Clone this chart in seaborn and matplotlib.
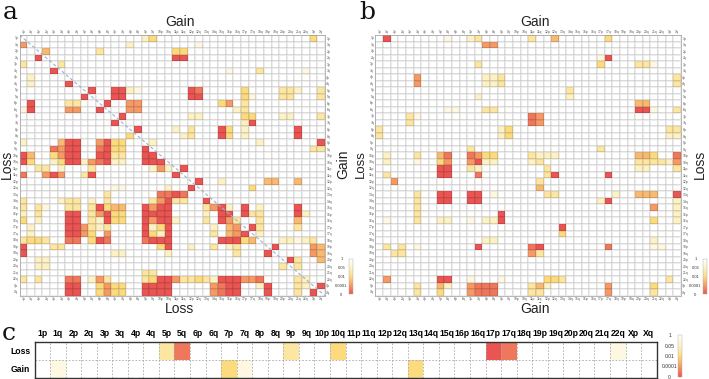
import numpy as np
import pandas as pd
import matplotlib
matplotlib.use('Agg')
import matplotlib.pyplot as plt
from matplotlib.colors import LinearSegmentedColormap, Normalize
from matplotlib.cm import ScalarMappable
import seaborn as sns

plt.rcParams['font.family'] = ['Liberation Sans', 'DejaVu Sans']

arms = ["1p", "1q", "2p", "2q", "3p", "3q", "4p", "4q", "5p", "5q",
        "6p", "6q", "7p", "7q", "8p", "8q", "9p", "9q", "10p", "10q",
        "11p", "11q", "12p", "12q", "13q", "14q", "15q", "16p", "16q", "17p",
        "17q", "18q", "19p", "19q", "20p", "20q", "21q", "22q", "Xp", "Xq"]

# significance score per cell: 0 = p 1 (white) ... 8 = p 0 (red)
# one dict per row arm, {column arm index: score}
a_sig = [
    {16: 2, 17: 4, 38: 4},                                                  # 1p
    {0: 6, 14: 2, 23: 1},                                                   # 1q
    {3: 5, 10: 3, 20: 4, 21: 4},                                            # 2p
    {2: 8, 20: 8, 21: 8},                                                   # 2q
    {0: 3, 5: 3},                                                           # 3p
    {4: 8, 27: 1, 31: 3, 37: 1},                                            # 3q
    {1: 2},                                                                 # 4p
    {1: 2, 6: 8},                                                           # 4q
    {9: 8, 12: 8, 13: 8, 14: 2, 15: 1, 22: 8, 23: 7, 29: 4, 34: 3, 35: 3, 36: 2, 39: 3},  # 5p
    {8: 8, 12: 8, 13: 8, 22: 8, 23: 8, 29: 4, 30: 1, 34: 3, 35: 3, 39: 3},  # 5q
    {1: 8, 6: 3, 7: 3, 11: 8, 14: 6, 15: 6, 26: 4, 27: 6, 29: 3},           # 6p
    {0: 1, 1: 8, 6: 6, 7: 6, 10: 8, 14: 6, 15: 6, 28: 2, 29: 3},            # 6q
    {13: 8, 22: 2, 23: 2, 29: 4, 30: 4, 34: 2, 35: 2, 39: 3},               # 7p
    {12: 8, 29: 2, 30: 8},                                                  # 7q
    {15: 8, 20: 2, 22: 3, 26: 8, 27: 4, 29: 2, 36: 8},                      # 8p
    {14: 4, 21: 2, 22: 3, 26: 8, 27: 4, 29: 2, 36: 8},                      # 8q
    {0: 2, 5: 5, 6: 8, 7: 8, 10: 6, 11: 8, 12: 4, 13: 4, 17: 2, 31: 2, 39: 8},  # 9p
    {4: 7, 5: 6, 6: 8, 7: 8, 10: 7, 11: 8, 12: 4, 13: 4, 16: 8, 38: 3, 39: 3},  # 9q
    {0: 8, 1: 5, 4: 4, 5: 6, 6: 8, 7: 8, 10: 8, 11: 8, 12: 3, 13: 3, 16: 8, 17: 8},  # 10p
    {0: 8, 1: 4, 4: 2, 5: 4, 6: 8, 7: 8, 8: 2, 9: 6, 10: 7, 11: 8, 12: 2, 13: 2,
     16: 8, 17: 8, 18: 8},                                                  # 10q
    {2: 3, 3: 3, 5: 2, 9: 3, 17: 2, 18: 6, 19: 2, 21: 8},                   # 11p
    {0: 7, 3: 6, 4: 8, 5: 6, 8: 3, 9: 8, 20: 8},                            # 11q
    {23: 8, 26: 2, 32: 5, 33: 5, 36: 5},                                    # 12p
    {12: 1, 13: 1, 19: 2, 22: 8, 30: 4},                                    # 12q
    {11: 3, 18: 7, 19: 7, 20: 8, 21: 7},                                    # 13q
    {0: 3, 5: 2, 6: 3, 7: 3, 9: 2, 11: 3, 17: 3, 18: 6, 19: 8, 20: 3, 21: 3, 24: 8},  # 14q
    {0: 3, 2: 3, 3: 1, 6: 3, 7: 3, 9: 3, 10: 8, 11: 4, 12: 5, 13: 5, 16: 8, 17: 6,
     18: 8, 19: 8, 24: 3, 25: 6, 26: 8, 27: 2, 29: 8, 31: 2, 36: 8},        # 15q
    {0: 2, 2: 3, 6: 8, 7: 8, 9: 3, 10: 6, 11: 8, 12: 4, 13: 4, 16: 8, 17: 8, 18: 8,
     19: 8, 24: 2, 26: 8, 27: 8, 29: 8, 30: 3, 31: 3, 36: 8, 37: 2},        # 16p
    {0: 4, 2: 2, 6: 8, 7: 8, 9: 3, 10: 2, 11: 8, 12: 4, 13: 4, 16: 8, 17: 6, 18: 8,
     19: 8, 20: 2, 24: 3, 26: 8, 27: 6, 28: 3, 31: 3, 36: 5},               # 16q
    {1: 2, 6: 8, 7: 8, 8: 6, 9: 3, 10: 2, 11: 3, 16: 8, 17: 2, 18: 4, 19: 8, 25: 2,
     27: 5, 28: 6, 30: 8, 31: 3, 36: 3},                                    # 17p
    {1: 2, 6: 8, 7: 8, 8: 6, 9: 4, 11: 6, 16: 8, 17: 4, 18: 2, 19: 8, 25: 3, 27: 5,
     28: 6, 29: 8, 31: 2},                                                  # 17q
    {0: 3, 1: 4, 2: 4, 3: 3, 6: 7, 7: 7, 9: 4, 10: 8, 11: 7, 16: 7, 17: 8, 18: 8,
     19: 8, 26: 8, 27: 8, 28: 8, 29: 4, 30: 5, 34: 2, 35: 2, 36: 1, 37: 2, 38: 3},  # 18q
    {0: 8, 4: 3, 5: 3, 18: 4, 19: 8, 22: 2, 25: 3, 27: 2, 28: 3, 33: 8, 38: 6, 39: 5},  # 19p
    {0: 8, 12: 2, 13: 2, 19: 2, 28: 3, 32: 8, 38: 6, 39: 5},                # 19q
    {2: 2, 3: 2, 35: 8, 36: 3, 39: 5},                                      # 20p
    {2: 2, 3: 2, 34: 3, 36: 3},                                             # 20q
    {16: 3, 17: 3},                                                         # 21q
    {0: 3, 2: 3, 6: 7, 7: 7, 9: 2, 10: 6, 11: 3, 16: 3, 17: 4, 18: 8, 19: 8, 20: 6,
     21: 3, 22: 3, 23: 4, 24: 3, 25: 2, 26: 8, 27: 8, 28: 8, 29: 6, 30: 6, 31: 7,
     36: 3, 37: 2},                                                         # 22q
    {6: 8, 7: 8, 10: 4, 11: 6, 12: 4, 13: 4, 16: 8, 17: 8, 18: 8, 19: 8, 25: 6, 26: 7,
     27: 8, 28: 8, 31: 2, 32: 8, 36: 3, 37: 2, 39: 8},                      # Xp
    {6: 8, 7: 8, 10: 4, 11: 6, 12: 4, 13: 4, 16: 8, 17: 8, 18: 8, 19: 8, 25: 6, 26: 7,
     27: 8, 28: 8, 32: 8, 36: 3, 38: 8},                                    # Xq
]

b_sig = [
    {1: 8, 9: 1, 12: 2, 13: 3, 20: 3, 23: 5, 30: 4},                        # 1p
    {14: 6, 15: 6},                                                         # 1q
    {},                                                                     # 2p
    {29: 1, 30: 8},                                                         # 2q
    {13: 3, 29: 4, 34: 3, 35: 3, 36: 1},                                    # 3p
    {},                                                                     # 3q
    {5: 6, 14: 2, 15: 2, 16: 3, 39: 3},                                     # 4p
    {5: 6, 14: 2, 15: 2, 16: 3, 39: 3},                                     # 4q
    {25: 3},                                                                # 5p
    {13: 2, 25: 2},                                                         # 5q
    {34: 5, 35: 5},                                                         # 6p
    {9: 1, 10: 1, 14: 3, 15: 3, 34: 8, 35: 8, 36: 1, 39: 3},                # 6q
    {4: 3, 5: 1, 20: 7, 21: 6},                                             # 7p
    {4: 3, 20: 7, 21: 6},                                                   # 7q
    {0: 3, 16: 2, 17: 4, 38: 3, 39: 3},                                     # 8p
    {0: 3, 16: 2, 17: 4, 38: 2, 39: 2},                                     # 8q
    {},                                                                     # 9p
    {12: 3, 29: 3},                                                         # 9q
    {1: 2, 5: 3, 8: 5, 9: 7, 12: 7, 13: 6, 14: 4, 15: 4, 20: 3, 21: 2, 22: 2, 23: 2,
     34: 5, 35: 5, 36: 4, 39: 7},                                           # 10p
    {1: 2, 5: 1, 8: 4, 9: 6, 12: 6, 13: 8, 14: 2, 15: 2, 20: 2, 21: 3, 34: 3, 35: 3,
     36: 3, 37: 3, 38: 2, 39: 6},                                           # 10q
    {8: 8, 9: 8, 12: 3, 13: 2, 22: 3, 34: 2, 35: 2, 39: 3},                 # 11p
    {1: 3, 8: 8, 9: 8, 13: 7, 22: 3, 23: 8, 30: 8},                         # 11q
    {2: 6, 21: 3},                                                          # 12p
    {21: 5},                                                                # 12q
    {5: 3, 8: 8, 9: 8, 12: 8, 13: 8, 15: 1, 22: 3, 23: 3, 31: 2, 34: 5, 35: 5, 36: 5,
     39: 8},                                                                # 13q
    {5: 3, 8: 8, 9: 8, 12: 8, 13: 8, 29: 2, 30: 8, 39: 2},                  # 14q
    {5: 3, 36: 6, 39: 2},                                                   # 15q
    {5: 3, 16: 8, 39: 2},                                                   # 16p
    {1: 1, 5: 3, 8: 2, 9: 2, 12: 1, 14: 2, 15: 2, 16: 8, 36: 4, 39: 2},     # 16q
    {24: 8},                                                                # 17p
    {24: 4},                                                                # 17q
    {14: 2, 15: 2, 36: 2},                                                  # 18q
    {1: 3, 3: 3, 5: 1, 13: 8, 20: 7, 21: 8, 30: 7, 36: 1, 37: 1},           # 19p
    {2: 3, 3: 3, 20: 6, 21: 3},                                             # 19q
    {},                                                                     # 20p
    {},                                                                     # 20q
    {},                                                                     # 21q
    {1: 6, 8: 8, 9: 8, 12: 1, 16: 1, 22: 4, 23: 4, 24: 3, 38: 3},           # 22q
    {5: 3, 8: 5, 9: 2, 12: 6, 13: 7, 14: 7, 15: 7, 20: 3, 21: 5, 22: 2, 30: 6, 36: 4},  # Xp
    {5: 3, 8: 4, 12: 6, 13: 7, 14: 7, 15: 7, 20: 3, 21: 3, 30: 6, 36: 3},   # Xq
]

c_loss = [0, 0, 0, 0, 0, 0, 0, 0, 3, 7, 0, 0, 0, 0, 0, 0, 3, 0, 0, 4,
          0, 0, 0, 0, 0, 0, 0, 0, 0, 8, 7, 0, 0, 0, 0, 0, 0, 1, 0, 0]
c_gain = [0, 1, 0, 0, 0, 0, 0, 0, 0, 0, 0, 0, 4, 1, 0, 0, 0, 0, 0, 0,
          0, 0, 0, 0, 4, 0, 0, 0, 0, 0, 0, 0, 0, 0, 0, 0, 0, 0, 0, 0]

cbar_ticks = [0, 2, 4, 6, 8]
cbar_labels = ["1", "0.05", "0.01", "0.0001", "0"]

cmap = LinearSegmentedColormap.from_list(
    "sig", ["#ffffff", "#fdf1c6", "#fcdc7e", "#f59a66", "#ea5553"])

W, H = 709, 379


def box(x0, y0, x1, y1):
    return [x0 / W, 1 - y1 / H, (x1 - x0) / W, (y1 - y0) / H]


def to_frame(rows):
    mat = np.zeros((len(arms), len(arms)))
    for i, row in enumerate(rows):
        for j, v in row.items():
            mat[i, j] = v
    return pd.DataFrame(mat, index=arms, columns=arms)


def draw_matrix(ax, rows):
    sns.heatmap(to_frame(rows), ax=ax, cmap=cmap, vmin=0, vmax=8, cbar=False,
                linewidths=0.3, linecolor=(0, 0, 0, 0.07),
                xticklabels=arms, yticklabels=arms)
    ax.tick_params(axis="both", length=0, labelsize=2.4, colors="#555555", pad=1.0,
                   top=True, labeltop=True, bottom=True, labelbottom=True,
                   left=True, labelleft=True, right=True, labelright=True)
    plt.setp(ax.get_xticklabels(), rotation=0)
    plt.setp(ax.get_yticklabels(), rotation=0)
    ax.set_xlabel("")
    ax.set_ylabel("")
    for s in ax.spines.values():
        s.set_visible(True)
        s.set_linewidth(0.5)
        s.set_color("#9a9a9a")


def draw_cbar(rect, size, pad):
    cax = fig.add_axes(rect)
    cb = fig.colorbar(ScalarMappable(norm=Normalize(0, 8), cmap=cmap), cax=cax)
    cb.outline.set_linewidth(0.3)
    cb.outline.set_edgecolor("#aaaaaa")
    cax.invert_yaxis()
    cax.yaxis.set_ticks_position("left")
    cb.set_ticks(cbar_ticks)
    cb.set_ticklabels(cbar_labels)
    cax.tick_params(length=0, labelsize=size, pad=pad, colors="#333333")
    for t in cax.get_yticklabels():
        t.set_ha("center")


fig = plt.figure(figsize=(W / 100, H / 100), dpi=100)

# panel a
ax_a = fig.add_axes(box(19.5, 35, 325, 295.7))
draw_matrix(ax_a, a_sig)
ax_a.plot([0, 40], [0, 40], ls=(0, (3, 2)), color="#9fb2cc", lw=0.8)
draw_cbar(box(349, 259, 353, 294), 3, 5.5)

# panel b
ax_b = fig.add_axes(box(375.5, 35, 681, 295.7))
draw_matrix(ax_b, b_sig)
draw_cbar(box(703, 259, 707, 294), 3, 5.5)

# panel c
ax_c = fig.add_axes(box(34.5, 342, 656.7, 378))
cdf = pd.DataFrame([c_loss, c_gain], index=["Loss", "Gain"], columns=arms)
sns.heatmap(cdf, ax=ax_c, cmap=cmap, vmin=0, vmax=8, cbar=False,
            xticklabels=arms, yticklabels=["Loss", "Gain"])
for k in range(1, len(arms)):
    ax_c.axvline(k, color="#a8a8a8", lw=0.6, ls=(0, (2, 2)))
ax_c.axhline(1, color="#a8a8a8", lw=0.6, ls=(0, (2, 2)))
ax_c.tick_params(axis="both", length=0, labelsize=6.2, pad=3,
                 top=True, labeltop=True, bottom=False, labelbottom=False)
plt.setp(ax_c.get_xticklabels(), rotation=0, fontweight="bold")
plt.setp(ax_c.get_yticklabels(), rotation=0, fontweight="bold")
ax_c.set_xlabel("")
ax_c.set_ylabel("")
for s in ax_c.spines.values():
    s.set_visible(True)
    s.set_linewidth(1.0)
    s.set_color("#333333")
draw_cbar(box(678, 335, 682, 377), 3.6, 6)

# titles and panel letters
def label(x, y, s, rot=0, size=10):
    fig.text(x / W, 1 - y / H, s, rotation=rot, fontsize=size,
             ha="center", va="center", color="#222222")

label(180, 22, "Gain")
label(180, 309, "Loss")
label(7, 164, "Loss", 90)
label(343, 164, "Gain", 90)
label(535, 22, "Gain")
label(535, 309, "Gain")
label(361, 164, "Loss", 90, 9.5)
label(700, 164, "Loss", 90)

for x, y, s in [(10, 19, "a"), (367, 19, "b"), (9, 340, "c")]:
    fig.text(x / W, 1 - y / H, s, fontsize=18, family="DejaVu Serif",
             ha="center", va="baseline", color="#111111")

plt.savefig("out.png", dpi=100)
plt.clf()
